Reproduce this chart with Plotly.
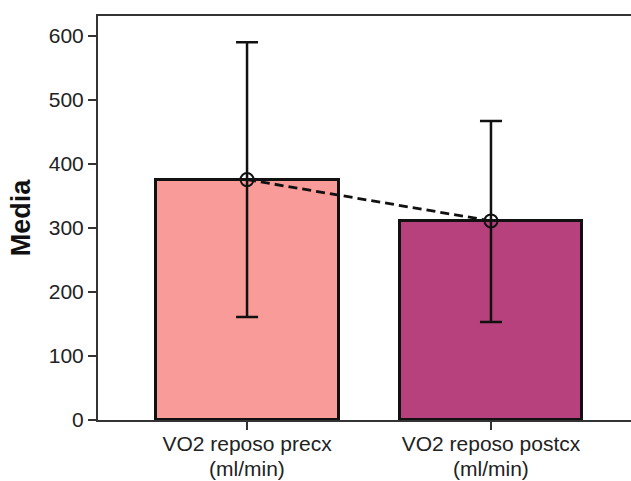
import plotly.graph_objects as go

# Mean resting VO2 before and after surgery, with error bars
categories = ["VO2 reposo precx", "VO2 reposo postcx"]
units = ["(ml/min)", "(ml/min)"]
means = [375.5, 311]
err_plus = [214.5, 156]
err_minus = [214.5, 158]
bar_colors = ["#F99B98", "#B7417C"]
y_ticks = [0, 100, 200, 300, 400, 500, 600]

x_pos = list(range(len(categories)))
ink = "#222222"
font = "Liberation Sans, Arial, sans-serif"

fig = go.Figure()

fig.add_trace(go.Bar(
    x=x_pos,
    y=means,
    width=0.75,
    marker=dict(color=bar_colors, line=dict(color="#111111", width=3)),
    showlegend=False,
    hoverinfo="skip",
))

fig.add_trace(go.Scatter(
    x=x_pos,
    y=means,
    mode="lines+markers",
    line=dict(color="#111111", width=2.8, dash="9px,5px"),
    marker=dict(symbol="circle-cross-open", size=13, color="#111111",
                line=dict(width=2)),
    error_y=dict(type="data", symmetric=False, array=err_plus,
                 arrayminus=err_minus, color="#111111", thickness=2.5,
                 width=11),
    showlegend=False,
))

# second line of each category label (units), set tight under the tick text
for xp, unit in zip(x_pos, units):
    fig.add_annotation(
        x=xp, xref="x", y=-0.119, yref="paper",
        text=unit, showarrow=False, yanchor="middle", borderpad=0,
        font=dict(size=21, color=ink),
    )

fig.update_layout(
    width=631,
    height=481,
    margin=dict(l=98, r=0, t=16, b=61),
    paper_bgcolor="white",
    plot_bgcolor="white",
    font=dict(family=font, size=21, color=ink),
    bargap=0,
)

fig.update_xaxes(
    range=[-0.611, 1.574],
    tickmode="array",
    tickvals=x_pos,
    ticktext=categories,
    ticks="outside",
    ticklen=8,
    tickwidth=2,
    tickcolor="#333333",
    ticklabelstandoff=-4,
    showline=True,
    linecolor="#333333",
    linewidth=2,
    mirror=True,
    showgrid=False,
    zeroline=False,
    automargin=False,
    tickfont=dict(size=21, color=ink),
)

fig.update_yaxes(
    range=[0, 631],
    tickmode="array",
    tickvals=y_ticks,
    ticks="outside",
    ticklen=8,
    tickwidth=2,
    tickcolor="#333333",
    showline=True,
    linecolor="#333333",
    linewidth=2,
    showgrid=False,
    zeroline=False,
    automargin=False,
    tickfont=dict(size=21, color=ink),
    title=dict(text="<b>Media</b>", font=dict(size=27, color="#111111"),
               standoff=10),
)

fig.write_html("out.html")
